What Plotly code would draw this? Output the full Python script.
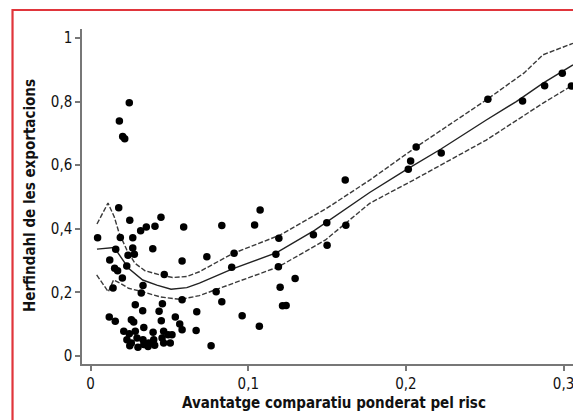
import plotly.graph_objects as go

# ---------------- data ----------------
pts_x = [0.0245, 0.0182, 0.0203, 0.0216,
         0.0178, 0.0248, 0.0446, 0.0408, 0.0353, 0.0317, 0.0590, 0.0044, 0.0188, 0.0267, 0.0267, 0.0394,
         0.0159, 0.0237, 0.0277, 0.0121, 0.0580,
         0.0171, 0.0152, 0.0201, 0.0229, 0.0142, 0.0332, 0.0321, 0.0467, 0.0580, 0.0455, 0.0283, 0.0330,
         0.0434, 0.0448, 0.0118, 0.0156, 0.0258, 0.0273, 0.0537, 0.0565, 0.0580, 0.0673, 0.0669, 0.0210,
         0.0245, 0.0283, 0.0337, 0.0396, 0.0463, 0.0491, 0.0516, 0.0230, 0.0258, 0.0248, 0.0294, 0.0332,
         0.0337, 0.0368, 0.0400, 0.0406, 0.0453, 0.0463, 0.0505, 0.0300, 0.0364,
         0.0832, 0.1040, 0.1075, 0.0737, 0.0910, 0.0895, 0.0796, 0.0832, 0.0764, 0.0961, 0.1070,
         0.1194, 0.1175, 0.1191, 0.1202, 0.1217, 0.1240, 0.1297, 0.1413, 0.1498, 0.1500, 0.1619, 0.1615,
         0.2065, 0.2030, 0.2015, 0.2224, 0.2520, 0.2740, 0.2880, 0.2992, 0.3050]
pts_y = [0.796, 0.739, 0.690, 0.683,
         0.466, 0.427, 0.436, 0.408, 0.406, 0.394, 0.406, 0.372, 0.373, 0.372, 0.340, 0.337,
         0.336, 0.317, 0.320, 0.302, 0.299,
         0.268, 0.276, 0.245, 0.283, 0.214, 0.222, 0.198, 0.256, 0.177, 0.164, 0.161, 0.142,
         0.141, 0.111, 0.123, 0.109, 0.114, 0.107, 0.123, 0.101, 0.083, 0.139, 0.080, 0.078,
         0.070, 0.078, 0.090, 0.075, 0.078, 0.067, 0.067, 0.051, 0.041, 0.032, 0.057, 0.051,
         0.036, 0.041, 0.051, 0.034, 0.057, 0.041, 0.041, 0.028, 0.030,
         0.410, 0.412, 0.459, 0.312, 0.323, 0.279, 0.202, 0.171, 0.032, 0.127, 0.094,
         0.370, 0.320, 0.281, 0.216, 0.158, 0.159, 0.244, 0.381, 0.419, 0.348, 0.411, 0.553,
         0.657, 0.613, 0.587, 0.638, 0.807, 0.802, 0.850, 0.889, 0.849]

fit_x = [0.004, 0.015, 0.024, 0.033, 0.042, 0.051, 0.061, 0.069, 0.090, 0.118, 0.142, 0.177,
         0.200, 0.222, 0.251, 0.270, 0.287, 0.306]
fit_y = [0.336, 0.341, 0.276, 0.239, 0.223, 0.210, 0.215, 0.229, 0.274, 0.325, 0.395, 0.514,
         0.585, 0.650, 0.742, 0.800, 0.858, 0.915]

upper_x = [0.004, 0.011, 0.015, 0.018, 0.023, 0.028, 0.0345, 0.044, 0.052, 0.061, 0.069, 0.090,
           0.120, 0.149, 0.177, 0.2065, 0.251, 0.275, 0.287, 0.306]
upper_y = [0.415, 0.481, 0.437, 0.387, 0.333, 0.292, 0.268, 0.255, 0.247, 0.250, 0.265, 0.322,
           0.380, 0.462, 0.553, 0.657, 0.805, 0.890, 0.947, 0.983]

lower_x = [0.0038, 0.0112, 0.0145, 0.019, 0.024, 0.033, 0.044, 0.057, 0.069, 0.092, 0.119,
           0.149, 0.177, 0.207, 0.251, 0.287, 0.306]
lower_y = [0.255, 0.202, 0.239, 0.228, 0.213, 0.202, 0.186, 0.178, 0.190, 0.232, 0.280,
           0.365, 0.480, 0.559, 0.679, 0.795, 0.852]

x_ticks = [0, 0.1, 0.2, 0.3]
x_tick_labels = ["0", "0,1", "0,2", "0,3"]
y_ticks = [0, 0.2, 0.4, 0.6, 0.8, 1]
y_tick_labels = ["0", "0,2", "0,4", "0,6", "0,8", "1"]

x_title = "Avantatge comparatiu ponderat pel risc"
y_title = "Herfindahl de les exportacions"

FONT = "Liberation Sans Narrow, DejaVu Sans Condensed, Roboto, sans-serif"

# ---------------- figure ----------------
fig = go.Figure()
fig.add_trace(go.Scatter(x=upper_x, y=upper_y, mode="lines",
                         line=dict(color="#3a3a3a", width=1.4, dash="5px,2px"), hoverinfo="skip"))
fig.add_trace(go.Scatter(x=lower_x, y=lower_y, mode="lines",
                         line=dict(color="#3a3a3a", width=1.4, dash="5px,2px"), hoverinfo="skip"))
fig.add_trace(go.Scatter(x=fit_x, y=fit_y, mode="lines",
                         line=dict(color="#222222", width=1.4), hoverinfo="skip"))
fig.add_trace(go.Scatter(x=pts_x, y=pts_y, mode="markers",
                         marker=dict(color="#000000", size=7.5, line=dict(width=0))))

axis_common = dict(showgrid=False, zeroline=False, showline=True, linecolor="#777777",
                   linewidth=1.5, ticks="outside", ticklen=5, tickwidth=1.5, tickcolor="#777777",
                   ticklabeloverflow="allow",
                   tickfont=dict(family=FONT, size=15, color="#111111"))

fig.update_xaxes(range=[-0.0055, 0.306], tickvals=x_ticks, ticktext=x_tick_labels,
                 automargin=False, **axis_common)
fig.update_yaxes(range=[-0.025, 1.028], tickvals=y_ticks, ticktext=y_tick_labels,
                 automargin=False, **axis_common)

fig.add_annotation(text="<b>" + x_title + "</b>", xref="paper", yref="paper",
                   x=0.513, y=-0.1164, xanchor="center", yanchor="middle", showarrow=False,
                   font=dict(family=FONT, size=15, color="#111111"))
fig.add_annotation(text="<b>" + y_title + "</b>", xref="paper", yref="paper",
                   x=-0.1059, y=0.5015, xanchor="center", yanchor="middle", showarrow=False,
                   textangle=-90, font=dict(family=FONT, size=15, color="#111111"))

# red frame (clipped at right and bottom)
fig.add_shape(type="rect", xref="paper", yref="paper", x0=-0.1415, y0=-0.5, x1=1.2, y1=1.0567,
              line=dict(color="#e0353b", width=2.2), layer="below")

fig.update_layout(width=573, height=420, margin=dict(l=82, r=0, t=29, b=56),
                  paper_bgcolor="white", plot_bgcolor="white", showlegend=False,
                  font=dict(family=FONT))

fig.write_html("out.html")
